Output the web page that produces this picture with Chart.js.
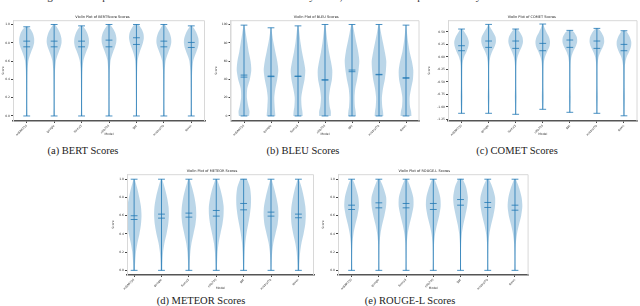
<!DOCTYPE html>
<html>
<head>
<meta charset="UTF-8">
<title>Violin plots of evaluation scores</title>
<script src="https://cdn.jsdelivr.net/npm/chart.js@4"></script>
<style>
  * { margin: 0; padding: 0; box-sizing: border-box; }
  html, body { width: 640px; height: 306px; overflow: hidden; background: #fff; }
  body { position: relative; font-family: 'Liberation Serif', 'Times New Roman', serif; color: #222; }
  canvas { position: absolute; }
  .caption { position: absolute; font-size: 10.5px; line-height: 12px; white-space: nowrap; transform: translateX(-50%); }
  .topline { position: absolute; left: 38px; top: -10.5px; font-size: 11px; line-height: 12px; white-space: nowrap; color: #333; }
</style>
</head>
<body>
<div class="topline">Figure 3: Comparison of the score distributions of the seven systems, shown as violin plots for every metric.</div>

<canvas id="bert" width="213" height="125" style="left:0px;top:14px"></canvas>
<canvas id="bleu" width="213" height="125" style="left:213px;top:14px"></canvas>
<canvas id="comet" width="214" height="125" style="left:426px;top:14px"></canvas>
<canvas id="meteor" width="210" height="125" style="left:110px;top:168px"></canvas>
<canvas id="rouge" width="212" height="125" style="left:320px;top:168px"></canvas>

<div class="caption" style="left:83px;top:145px">(a) BERT Scores</div>
<div class="caption" style="left:303px;top:145px">(b) BLEU Scores</div>
<div class="caption" style="left:517px;top:145px">(c) COMET Scores</div>
<div class="caption" style="left:201px;top:295px">(d) METEOR Scores</div>
<div class="caption" style="left:410px;top:295px">(e) ROUGE-L Scores</div>

<script>
// モデル (x 軸カテゴリ)
const MODELS = ["mBART50", "google", "llama3", "nllb200", "gpt", "mistral7b", "qwen"];

// BERTScore
const BERT_TICKS = [0, 0.2, 0.4, 0.6, 0.8, 1.0];
const BERT_LEVELS = [0, 0.1, 0.2, 0.3, 0.4, 0.5, 0.6, 0.65, 0.7, 0.75, 0.8, 0.85, 0.9, 0.95, 1.0];
const BERT_WIDTHS = [
  [0.1, 0.07, 0.07, 0.08, 0.09, 0.12, 0.22, 0.38, 0.6, 0.85, 1.0, 1.0, 0.85, 0.5, 0.1],
  [0.1, 0.07, 0.07, 0.08, 0.09, 0.12, 0.24, 0.4, 0.62, 0.86, 1.0, 0.98, 0.82, 0.52, 0.12],
  [0.1, 0.07, 0.07, 0.08, 0.09, 0.12, 0.24, 0.4, 0.62, 0.88, 1.0, 0.97, 0.8, 0.48, 0.1],
  [0.1, 0.07, 0.07, 0.08, 0.09, 0.11, 0.2, 0.35, 0.56, 0.8, 0.97, 1.0, 0.88, 0.58, 0.14],
  [0.08, 0.06, 0.06, 0.07, 0.08, 0.1, 0.16, 0.27, 0.45, 0.68, 0.88, 1.0, 0.95, 0.7, 0.25],
  [0.1, 0.07, 0.07, 0.08, 0.09, 0.12, 0.23, 0.4, 0.62, 0.86, 1.0, 0.98, 0.82, 0.5, 0.12],
  [0.1, 0.07, 0.07, 0.08, 0.09, 0.13, 0.26, 0.44, 0.68, 0.9, 1.0, 0.95, 0.75, 0.42, 0.08]
];
const BERT_MIN = [0, 0, 0, 0, 0, 0, 0];
const BERT_MAX = [0.975, 1.0, 0.985, 1.0, 1.0, 1.0, 0.985];
const BERT_MEDIAN = [0.818, 0.818, 0.818, 0.829, 0.855, 0.818, 0.804];
const BERT_MEAN = [0.756, 0.756, 0.756, 0.756, 0.782, 0.756, 0.749];

// BLEU
const BLEU_TICKS = [0, 20, 40, 60, 80, 100];
const BLEU_LEVELS = [0, 5, 10, 20, 30, 40, 50, 60, 70, 80, 90, 100];
const BLEU_WIDTHS = [
  [0.7, 0.75, 0.6, 0.4, 0.45, 0.8, 1.0, 0.9, 0.65, 0.45, 0.25, 0.05],
  [0.6, 0.55, 0.5, 0.45, 0.6, 0.85, 1.0, 0.85, 0.6, 0.35, 0.15, 0.05],
  [0.65, 0.6, 0.5, 0.45, 0.65, 0.9, 1.0, 0.8, 0.55, 0.35, 0.2, 0.05],
  [0.8, 0.8, 0.65, 0.55, 0.7, 0.95, 1.0, 0.8, 0.55, 0.35, 0.2, 0.05],
  [0.55, 0.5, 0.4, 0.35, 0.45, 0.7, 0.9, 1.0, 0.85, 0.6, 0.35, 0.08],
  [0.6, 0.55, 0.45, 0.4, 0.55, 0.8, 0.95, 1.0, 0.8, 0.55, 0.3, 0.06],
  [0.75, 0.7, 0.55, 0.5, 0.7, 0.95, 1.0, 0.8, 0.5, 0.3, 0.15, 0.05]
];
const BLEU_MIN = [0, 0, 0, 0, 0, 0, 0];
const BLEU_MAX = [99.3, 96.4, 98.5, 100, 100, 100, 99.3];
const BLEU_MEDIAN = [44.7, 43.6, 43.6, 39.6, 50.2, 45.5, 41.8];
const BLEU_MEAN = [42.5, 43.0, 43.2, 39.2, 48.4, 45.0, 41.3];

// COMET
const COMET_TICKS = [-1.25, -1.0, -0.75, -0.5, -0.25, 0, 0.25, 0.5];
const COMET_LEVELS = [-1.2, -1.0, -0.8, -0.6, -0.4, -0.2, -0.1, 0.0, 0.1, 0.2, 0.3, 0.4, 0.5, 0.6, 0.7];
const COMET_WIDTHS = [
  [0.08, 0.1, 0.13, 0.1, 0.1, 0.12, 0.18, 0.36, 0.68, 0.92, 1.0, 0.8, 0.4, 0.1, 0.05],
  [0.07, 0.08, 0.12, 0.08, 0.08, 0.09, 0.13, 0.24, 0.48, 0.8, 1.0, 0.95, 0.6, 0.2, 0.05],
  [0.07, 0.08, 0.12, 0.08, 0.08, 0.09, 0.14, 0.27, 0.52, 0.82, 1.0, 0.92, 0.55, 0.15, 0.05],
  [0.07, 0.09, 0.13, 0.09, 0.09, 0.11, 0.16, 0.32, 0.6, 0.9, 1.0, 0.85, 0.5, 0.2, 0.05],
  [0.07, 0.08, 0.12, 0.08, 0.08, 0.09, 0.12, 0.22, 0.45, 0.78, 1.0, 0.95, 0.55, 0.12, 0.05],
  [0.07, 0.08, 0.12, 0.08, 0.08, 0.09, 0.13, 0.24, 0.5, 0.82, 1.0, 0.93, 0.58, 0.15, 0.05],
  [0.08, 0.1, 0.13, 0.1, 0.1, 0.12, 0.2, 0.38, 0.7, 0.95, 1.0, 0.8, 0.4, 0.1, 0.05]
];
const COMET_MIN = [-1.13, -1.13, -1.15, -1.05, -1.11, -1.13, -1.18];
const COMET_MAX = [0.557, 0.65, 0.557, 0.657, 0.53, 0.57, 0.523];
const COMET_MEDIAN = [0.223, 0.317, 0.317, 0.27, 0.337, 0.317, 0.25];
const COMET_MEAN = [0.123, 0.19, 0.17, 0.123, 0.19, 0.17, 0.123];

// METEOR
const METEOR_TICKS = [0, 0.2, 0.4, 0.6, 0.8, 1.0];
const METEOR_LEVELS = [0, 0.05, 0.1, 0.2, 0.3, 0.4, 0.5, 0.6, 0.7, 0.8, 0.9, 0.95, 1.0];
const METEOR_WIDTHS = [
  [0.12, 0.12, 0.15, 0.25, 0.45, 0.72, 0.92, 1.0, 0.92, 0.7, 0.42, 0.25, 0.06],
  [0.12, 0.12, 0.14, 0.22, 0.4, 0.68, 0.9, 1.0, 0.95, 0.75, 0.45, 0.28, 0.08],
  [0.1, 0.1, 0.12, 0.2, 0.36, 0.62, 0.88, 1.0, 0.95, 0.76, 0.46, 0.28, 0.08],
  [0.1, 0.1, 0.12, 0.18, 0.32, 0.56, 0.82, 0.98, 1.0, 0.82, 0.52, 0.32, 0.1],
  [0.08, 0.08, 0.1, 0.14, 0.22, 0.38, 0.6, 0.82, 0.97, 1.0, 0.88, 0.7, 0.4],
  [0.06, 0.07, 0.09, 0.16, 0.32, 0.6, 0.88, 1.0, 0.95, 0.72, 0.42, 0.25, 0.06],
  [0.12, 0.12, 0.15, 0.24, 0.42, 0.7, 0.92, 1.0, 0.94, 0.74, 0.46, 0.28, 0.08]
];
const METEOR_MIN = [0, 0, 0, 0, 0, 0, 0];
const METEOR_MAX = [1, 1, 1, 1, 1, 1, 1];
const METEOR_MEDIAN = [0.599, 0.617, 0.628, 0.657, 0.734, 0.639, 0.617];
const METEOR_MEAN = [0.558, 0.573, 0.584, 0.595, 0.664, 0.595, 0.577];

// ROUGE-L
const ROUGE_TICKS = [0, 0.2, 0.4, 0.6, 0.8, 1.0];
const ROUGE_LEVELS = [0, 0.1, 0.2, 0.3, 0.4, 0.5, 0.6, 0.7, 0.8, 0.9, 0.95, 1.0];
const ROUGE_WIDTHS = [
  [0.08, 0.06, 0.07, 0.12, 0.25, 0.5, 0.8, 1.0, 0.92, 0.6, 0.4, 0.12],
  [0.08, 0.06, 0.07, 0.1, 0.22, 0.45, 0.75, 0.98, 1.0, 0.65, 0.42, 0.14],
  [0.08, 0.06, 0.07, 0.1, 0.22, 0.46, 0.76, 1.0, 0.98, 0.64, 0.42, 0.14],
  [0.08, 0.06, 0.07, 0.11, 0.24, 0.5, 0.8, 1.0, 0.95, 0.62, 0.4, 0.14],
  [0.07, 0.05, 0.06, 0.09, 0.18, 0.38, 0.65, 0.9, 1.0, 0.8, 0.6, 0.25],
  [0.08, 0.06, 0.07, 0.1, 0.22, 0.46, 0.76, 0.98, 1.0, 0.68, 0.45, 0.15],
  [0.08, 0.06, 0.07, 0.12, 0.27, 0.54, 0.84, 1.0, 0.9, 0.58, 0.36, 0.1]
];
const ROUGE_MIN = [0, 0, 0, 0, 0, 0, 0];
const ROUGE_MAX = [1, 1, 1, 1, 1, 1, 1];
const ROUGE_MEDIAN = [0.715, 0.741, 0.734, 0.734, 0.777, 0.745, 0.715];
const ROUGE_MEAN = [0.668, 0.686, 0.686, 0.668, 0.715, 0.69, 0.66];

// 見た目
const SANS = "'DejaVu Sans', sans-serif";
const LINE = "rgba(31, 119, 180, 0.8)";
const FILL = "rgba(31, 119, 180, 0.3)";
const VIOLIN_HALF = 0.27;
const CAP_HALF = 0.125;

// バイオリンの輪郭 (右側を上へ、左側を下へ)
function outline(i, levels, widths, lo, hi) {
  const side = [];
  levels.forEach((v, k) => {
    if (v < lo && levels[k + 1] > lo) side.push({ y: lo, w: widths[k] });
    else if (v >= lo && v <= hi) side.push({ y: v, w: widths[k] });
    else if (v > hi && levels[k - 1] < hi) side.push({ y: hi, w: widths[k] });
  });
  const right = side.map((p) => ({ x: i + p.w * VIOLIN_HALF, y: p.y }));
  const left = side.slice().reverse().map((p) => ({ x: i - p.w * VIOLIN_HALF, y: p.y }));
  return right.concat(left);
}

// 中央線・端・中央値・平均の線分 (null で区切る)
function violinLines(mins, maxs, medians, means) {
  const pts = [];
  const seg = (x1, y1, x2, y2) => pts.push({ x: x1, y: y1 }, { x: x2, y: y2 }, { x: x2, y: null });
  mins.forEach((lo, i) => {
    const hi = maxs[i];
    seg(i, lo, i, hi);
    seg(i - CAP_HALF, lo, i + CAP_HALF, lo);
    seg(i - CAP_HALF, hi, i + CAP_HALF, hi);
    seg(i - CAP_HALF, medians[i], i + CAP_HALF, medians[i]);
    seg(i - CAP_HALF, means[i], i + CAP_HALF, means[i]);
  });
  return pts;
}

const framePlugin = {
  id: "frame",
  afterDraw(chart) {
    const { ctx, chartArea: a } = chart;
    ctx.save();
    ctx.strokeStyle = "#d8d8d8";
    ctx.lineWidth = 1;
    ctx.beginPath();
    ctx.moveTo(a.left + 0.5, a.bottom);
    ctx.lineTo(a.left + 0.5, a.top + 0.5);
    ctx.lineTo(a.right - 0.5, a.top + 0.5);
    ctx.lineTo(a.right - 0.5, a.bottom);
    ctx.stroke();
    ctx.restore();
  }
};

function violinChart(id, spec) {
  const datasets = spec.widths.map((w, i) => ({
    data: outline(i, spec.levels, w, spec.mins[i], spec.maxs[i]),
    showLine: true,
    fill: "shape",
    backgroundColor: FILL,
    borderColor: "transparent",
    borderWidth: 0,
    pointRadius: 0,
    tension: 0.25
  }));
  datasets.push({
    data: violinLines(spec.mins, spec.maxs, spec.medians, spec.means),
    showLine: true,
    fill: false,
    borderColor: LINE,
    borderWidth: 1,
    pointRadius: 0,
    spanGaps: false
  });

  new Chart(document.getElementById(id), {
    type: "scatter",
    data: { datasets },
    plugins: [framePlugin],
    options: {
      responsive: false,
      animation: false,
      events: [],
      layout: { padding: { top: 0, right: spec.padRight, bottom: 0, left: 0 } },
      plugins: {
        legend: { display: false },
        tooltip: { enabled: false },
        title: {
          display: true,
          text: spec.title,
          color: "#222",
          font: { family: SANS, size: 3.5, weight: "normal" },
          padding: { top: 1, bottom: 1 }
        }
      },
      scales: {
        x: {
          type: "linear",
          min: spec.xMin,
          max: spec.xMax,
          afterBuildTicks: (ax) => { ax.ticks = MODELS.map((_, i) => ({ value: i })); },
          afterFit: (ax) => { ax.height = 18; },
          ticks: {
            callback: (v) => MODELS[v],
            autoSkip: false,
            minRotation: 45,
            maxRotation: 45,
            padding: 1,
            color: "#333",
            font: { family: SANS, size: 3 }
          },
          grid: { display: true, drawOnChartArea: false, drawTicks: true, tickLength: 2, color: "#444" },
          border: { display: true, color: "#555", width: 1.5 },
          title: { display: true, text: "Model", color: "#333", font: { family: SANS, size: 3 }, padding: { top: 0, bottom: 3 } }
        },
        y: {
          min: spec.yMin,
          max: spec.yMax,
          afterBuildTicks: (ax) => { ax.ticks = spec.ticks.map((v) => ({ value: v })); },
          afterFit: (ax) => { ax.width = spec.yAxisWidth; },
          ticks: {
            callback: (v) => v.toFixed(spec.digits),
            padding: 1,
            color: "#333",
            font: { family: SANS, size: 3 }
          },
          grid: { display: true, drawOnChartArea: false, drawTicks: true, tickLength: 2, color: "#444" },
          border: { display: true, color: "#d8d8d8", width: 1 },
          title: { display: true, text: "Score", color: "#333", font: { family: SANS, size: 3 }, padding: 1 }
        }
      }
    }
  });
}

violinChart("bert", {
  title: "Violin Plot of BERTScore Scores",
  levels: BERT_LEVELS, widths: BERT_WIDTHS, mins: BERT_MIN, maxs: BERT_MAX,
  medians: BERT_MEDIAN, means: BERT_MEAN, ticks: BERT_TICKS, digits: 1,
  yMin: -0.055, yMax: 1.047, xMin: -0.5, xMax: 6.5, yAxisWidth: 13, padRight: 8
});
violinChart("bleu", {
  title: "Violin Plot of BLEU Scores",
  levels: BLEU_LEVELS, widths: BLEU_WIDTHS, mins: BLEU_MIN, maxs: BLEU_MAX,
  medians: BLEU_MEDIAN, means: BLEU_MEAN, ticks: BLEU_TICKS, digits: 0,
  yMin: -5.5, yMax: 104.7, xMin: -0.5, xMax: 6.5, yAxisWidth: 17.5, padRight: 6.5
});
violinChart("comet", {
  title: "Violin Plot of COMET Scores",
  levels: COMET_LEVELS, widths: COMET_WIDTHS, mins: COMET_MIN, maxs: COMET_MAX,
  medians: COMET_MEDIAN, means: COMET_MEAN, ticks: COMET_TICKS, digits: 2,
  yMin: -1.284, yMax: 0.734, xMin: -0.5, xMax: 6.5, yAxisWidth: 22, padRight: 2.5
});
violinChart("meteor", {
  title: "Violin Plot of METEOR Scores",
  levels: METEOR_LEVELS, widths: METEOR_WIDTHS, mins: METEOR_MIN, maxs: METEOR_MAX,
  medians: METEOR_MEDIAN, means: METEOR_MEAN, ticks: METEOR_TICKS, digits: 1,
  yMin: -0.051, yMax: 1.055, xMin: -0.26, xMax: 6.57, yAxisWidth: 17, padRight: 6
});
violinChart("rouge", {
  title: "Violin Plot of ROUGE-L Scores",
  levels: ROUGE_LEVELS, widths: ROUGE_WIDTHS, mins: ROUGE_MIN, maxs: ROUGE_MAX,
  medians: ROUGE_MEDIAN, means: ROUGE_MEAN, ticks: ROUGE_TICKS, digits: 1,
  yMin: -0.051, yMax: 1.055, xMin: -0.5, xMax: 6.5, yAxisWidth: 18, padRight: 3.4
});
</script>
</body>
</html>
